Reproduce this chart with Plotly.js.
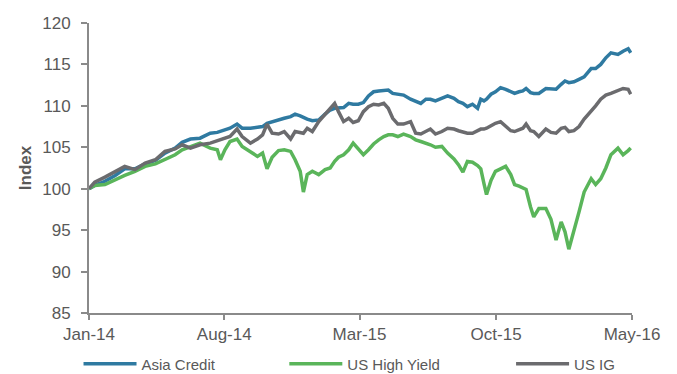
<!DOCTYPE html>
<html><head><meta charset="utf-8">
<script src="https://cdn.plot.ly/plotly-3.0.1.min.js"></script>
<style>html,body{margin:0;padding:0;background:#fff}</style>
</head><body><div id="chart" style="width:677px;height:374px"></div>
<script>
const dates = ['2014-01-01','2014-01-10','2014-01-26','2014-02-11','2014-02-26','2014-03-14','2014-03-30','2014-04-15','2014-04-30','2014-05-16','2014-05-27','2014-06-09','2014-06-24','2014-07-10','2014-07-21','2014-07-26','2014-08-02','2014-08-10','2014-08-21','2014-08-29','2014-09-11','2014-09-22','2014-09-30','2014-10-07','2014-10-15','2014-10-25','2014-11-03','2014-11-13','2014-11-20','2014-11-28','2014-12-03','2014-12-09','2014-12-17','2014-12-27','2015-01-06','2015-01-14','2015-01-21','2015-01-27','2015-02-04','2015-02-12','2015-02-19','2015-02-27','2015-03-07','2015-03-15','2015-03-23','2015-03-31','2015-04-08','2015-04-15','2015-04-22','2015-04-30','2015-05-09','2015-05-20','2015-05-28','2015-06-05','2015-06-13','2015-06-20','2015-06-28','2015-07-08','2015-07-17','2015-07-27','2015-08-03','2015-08-10','2015-08-17','2015-08-25','2015-09-02','2015-09-07','2015-09-12','2015-09-16','2015-09-23','2015-09-30','2015-10-08','2015-10-16','2015-10-24','2015-10-30','2015-11-06','2015-11-12','2015-11-17','2015-11-24','2015-11-29','2015-12-07','2015-12-18','2015-12-26','2016-01-03','2016-01-11','2016-01-17','2016-01-23','2016-01-31','2016-02-08','2016-02-16','2016-02-27','2016-03-05','2016-03-13','2016-03-21','2016-03-29','2016-04-09','2016-04-17','2016-04-25','2016-04-29'];

const asiaCredit = [100.0,100.4,100.9,101.6,102.4,102.4,103.0,103.4,104.3,104.9,105.6,106.0,106.1,106.7,106.8,106.9,107.1,107.3,107.8,107.3,107.3,107.4,107.5,107.9,108.1,108.3,108.5,108.7,109.0,108.8,108.6,108.4,108.2,108.3,109.0,109.5,109.7,109.7,109.8,110.3,110.2,110.2,110.4,111.2,111.7,111.8,111.9,111.9,111.5,111.4,111.3,110.8,110.6,110.3,110.8,110.8,110.6,110.9,111.2,110.9,110.5,110.3,109.9,110.2,109.7,110.8,110.6,110.8,111.4,111.7,112.2,112.0,111.7,111.5,111.7,111.8,112.1,111.6,111.5,111.5,112.1,112.1,112.0,112.6,113.0,112.8,112.9,113.2,113.5,114.5,114.5,115.0,115.8,116.4,116.2,116.6,116.9,116.4];

const usHighYield = [100.0,100.4,100.5,101.1,101.6,102.1,102.7,103.0,103.5,104.1,104.7,105.1,105.5,104.9,104.7,103.5,104.7,105.7,106.0,105.1,104.5,103.9,104.3,102.4,103.8,104.6,104.7,104.5,103.5,102.1,99.6,101.7,102.1,101.7,102.3,102.5,103.3,103.8,104.1,104.7,105.5,104.8,104.1,104.7,105.4,105.9,106.3,106.5,106.5,106.3,106.6,106.3,105.9,105.7,105.5,105.3,105.0,105.1,104.3,103.6,102.9,102.0,103.3,103.2,102.8,102.4,100.6,99.3,101.0,102.1,102.4,102.7,101.7,100.5,100.3,100.1,99.9,97.8,96.6,97.6,97.6,96.3,93.8,96.0,94.8,92.7,94.8,97.2,99.6,101.2,100.5,101.2,102.5,104.1,104.9,104.1,104.6,104.9];

const usIG = [100.0,100.8,101.4,102.1,102.7,102.3,103.1,103.5,104.5,104.8,105.3,104.9,105.3,105.5,105.8,106.0,106.1,106.3,107.2,106.3,105.5,106.0,106.5,107.8,106.7,106.6,106.9,106.0,106.9,106.8,106.7,107.3,106.9,108.1,109.0,109.7,110.3,109.3,108.1,108.5,108.0,108.2,109.3,109.9,110.2,110.1,110.3,109.7,108.5,107.8,107.8,108.1,106.7,106.6,106.9,107.2,106.6,106.9,107.3,107.2,107.0,106.9,106.7,106.7,107.0,107.2,107.2,107.3,107.6,107.9,108.1,107.6,107.0,106.9,107.1,107.3,107.8,107.0,106.9,106.3,107.2,106.8,106.7,107.3,107.4,106.9,107.0,107.5,108.4,109.3,110.0,110.8,111.3,111.5,111.8,112.1,112.0,111.4];

const seriesNames = ['Asia Credit','US High Yield','US IG'];
const seriesColors = ['#2f7aa1','#5ab55a','#6b6b6e'];
const tickDates = ['2014-01-01','2014-08-01','2015-03-01','2015-10-01','2016-05-01'];
const tickLabels = ['Jan-14','Aug-14','Mar-15','Oct-15','May-16'];
const yTicks = [85,90,95,100,105,110,115,120];

const seriesValues = [asiaCredit, usHighYield, usIG];
const legendIds = ['legend','legend2','legend3'];
const legendX = [-0.0193, 0.3597, 0.7773];

const traces = seriesValues.map((vals, i) => ({
  type: 'scatter', mode: 'lines', x: dates, y: vals, name: seriesNames[i],
  legend: legendIds[i],
  line: {color: seriesColors[i], width: 3.5}
}));

const axisColor = '#8a8a8a';
const textColor = '#595959';
const layout = {
  width: 677, height: 374,
  margin: {l: 88.5, r: 45, t: 22.5, b: 61},
  paper_bgcolor: '#fff', plot_bgcolor: '#fff',
  font: {family: 'Liberation Sans, Arial, sans-serif', color: textColor, size: 17},
  showlegend: true,
  xaxis: {type: 'date', range: ['2014-01-01','2016-05-01'], tickvals: tickDates, ticktext: tickLabels,
          showgrid: false, zeroline: false, showline: true, linecolor: axisColor, linewidth: 2,
          ticks: 'outside', ticklen: 5, tickwidth: 2, tickcolor: axisColor, tickfont: {size: 17, color: textColor}},
  yaxis: {range: [85, 120], tickvals: yTicks, showgrid: false, zeroline: false, showline: true,
          linecolor: axisColor, linewidth: 2, ticks: 'outside', ticklen: 6, tickwidth: 2, tickcolor: axisColor,
          tickfont: {size: 17, color: textColor}, ticklabelstandoff: 7,
          title: {text: '<b>Index</b>', font: {size: 17, color: textColor}, standoff: 6}}
};
legendIds.forEach((id, i) => {
  layout[id] = {orientation: 'h', x: legendX[i], xanchor: 'left', yref: 'container', y: 0.027, yanchor: 'middle',
                font: {size: 15, color: textColor}, itemwidth: 53, bgcolor: 'rgba(0,0,0,0)'};
});
Plotly.newPlot('chart', traces, layout, {displayModeBar: false, staticPlot: true});
</script>
</body></html>
